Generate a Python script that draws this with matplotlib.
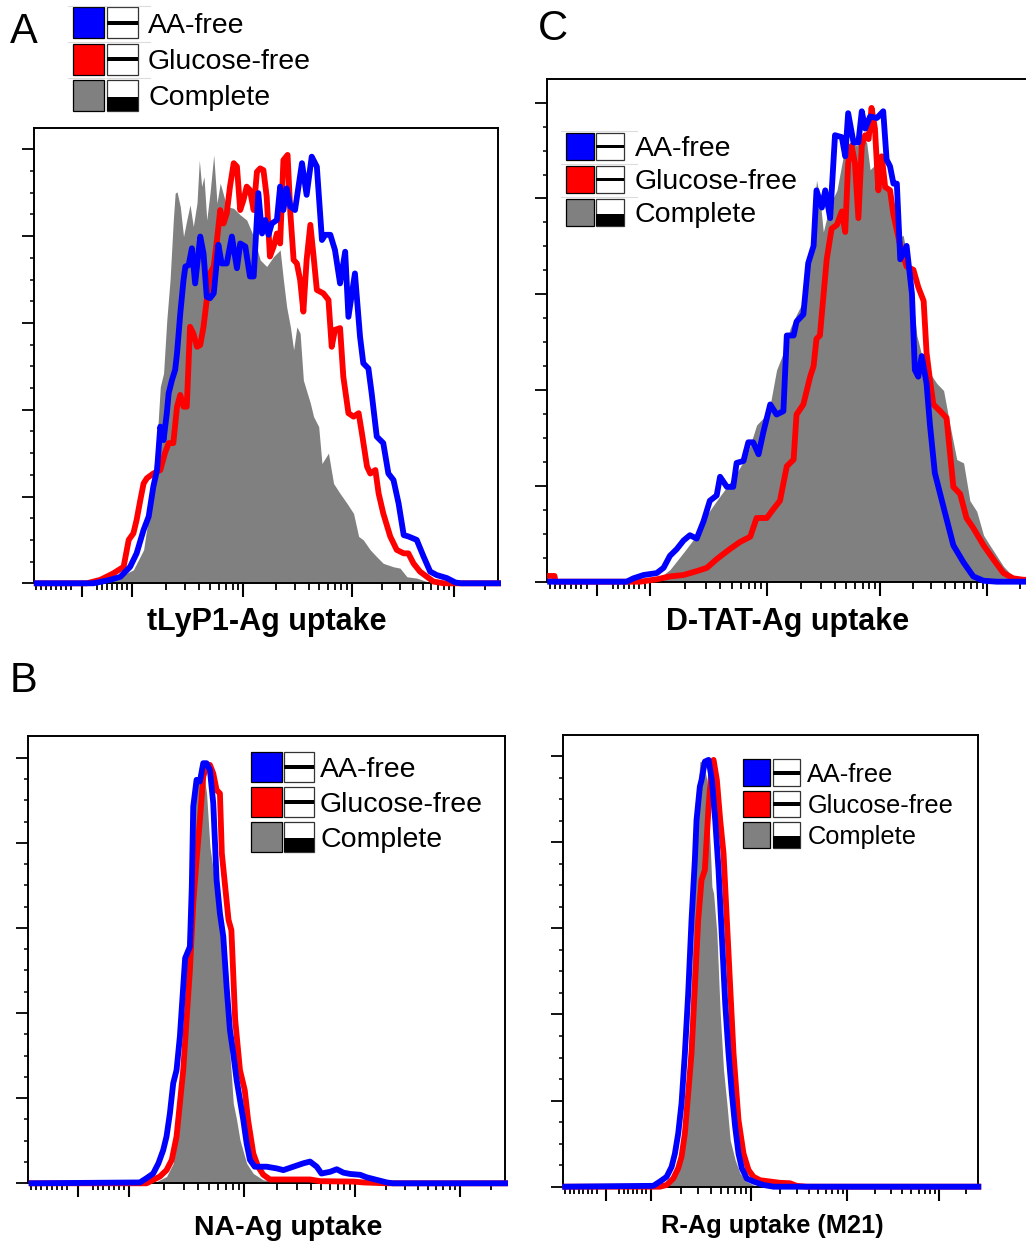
import numpy as np
import matplotlib
matplotlib.use("Agg")
import matplotlib.pyplot as plt
from matplotlib.patches import Rectangle
from matplotlib.lines import Line2D

plt.rcParams['font.family'] = ['Liberation Sans', 'DejaVu Sans']

# histogram data: x = display channel (0-1000 across the axis), y = % of max
a_comp_x = [7, 160, 165, 215, 237, 251, 258, 266, 273, 280,
            287, 294, 301, 305, 309, 316, 323, 330, 337, 344,
            352, 357, 362, 367, 373, 380, 388, 395, 402, 416,
            431, 445, 459, 474, 488, 502, 517, 531, 538, 545,
            553, 560, 567, 574, 581, 596, 603, 614, 621, 635,
            646, 660, 675, 689, 700, 710, 725, 739, 753, 775,
            789, 804, 825, 847, 860, 1000]
a_comp_y = [0, 0, 0.4, 3.1, 7.7, 17.7, 25.3, 33.0, 45.3, 48.4,
            60.7, 69.9, 83.7, 89.9, 90.2, 86.8, 79.9, 83.7, 87.2, 82.2,
            87.6, 97.5, 91.4, 93.7, 83.7, 89.9, 98.7, 87.6, 92.2, 86.8,
            86.4, 84.9, 83.7, 79.9, 74.5, 73.0, 75.3, 76.8, 69.9, 63.7,
            59.1, 53.8, 59.1, 57.6, 46.8, 41.5, 38.4, 36.1, 27.6, 30.0,
            23.0, 20.7, 18.4, 16.1, 10.8, 10.0, 7.7, 6.1, 4.6, 3.8,
            3.5, 1.5, 1.2, 0.4, 0, 0]
a_glu_x = [7, 115, 144, 172, 194, 205, 215, 222, 230, 237,
           244, 258, 273, 283, 291, 301, 309, 316, 323, 330,
           337, 344, 352, 359, 366, 373, 380, 388, 395, 402,
           409, 416, 423, 431, 438, 445, 452, 459, 466, 474,
           481, 488, 495, 502, 509, 517, 524, 531, 538, 547,
           553, 560, 567, 574, 581, 588, 596, 603, 610, 624,
           635, 642, 649, 660, 667, 678, 689, 700, 707, 718,
           725, 736, 743, 753, 768, 782, 797, 807, 818, 832,
           847, 861, 883, 1000]
a_glu_y = [0, 0, 0.8, 2.3, 3.8, 10.0, 11.5, 14.6, 19.2, 23.0,
           24.2, 25.3, 26.1, 30.0, 32.3, 32.3, 40.7, 43.4, 40.7, 40.7,
           59.1, 57.6, 54.5, 54.9, 59.1, 65.3, 71.4, 73.0, 79.1, 86.0,
           82.9, 85.2, 91.4, 96.8, 96.0, 86.0, 88.3, 91.4, 90.6, 86.0,
           94.8, 95.6, 95.2, 89.1, 75.3, 77.6, 80.6, 78.3, 97.5, 98.7,
           85.2, 74.5, 73.7, 69.9, 62.6, 74.5, 82.6, 75.3, 67.6, 66.8,
           65.3, 54.5, 58.4, 58.8, 47.6, 39.2, 38.4, 39.2, 34.6, 26.9,
           25.3, 26.1, 20.7, 16.1, 10.8, 7.7, 6.9, 6.9, 4.6, 2.7,
           1.5, 0.4, 0, 0]
a_aa_x = [7, 129, 165, 187, 208, 222, 237, 248, 258, 266,
          273, 280, 287, 291, 298, 305, 309, 316, 323, 327,
          334, 341, 348, 359, 366, 373, 380, 388, 398, 405,
          416, 427, 438, 445, 456, 466, 474, 484, 492, 499,
          506, 513, 524, 531, 538, 545, 553, 563, 578, 588,
          599, 610, 621, 628, 639, 649, 660, 671, 678, 692,
          703, 710, 721, 728, 739, 753, 764, 775, 786, 797,
          807, 825, 840, 854, 868, 890, 908, 920, 1000]
a_aa_y = [0, 0, 0.8, 1.5, 3.8, 6.9, 12.3, 15.4, 22.3, 26.1,
          36.1, 33.0, 39.2, 43.8, 46.8, 49.2, 53.0, 62.2, 69.9, 73.0,
          73.3, 77.2, 69.1, 79.9, 76.0, 66.0, 65.7, 66.8, 78.0, 73.7,
          73.7, 79.9, 72.6, 78.3, 77.6, 70.7, 70.7, 89.9, 80.6, 83.7,
          80.3, 82.9, 83.7, 91.4, 86.0, 91.0, 86.8, 86.0, 96.8, 89.5,
          98.3, 96.0, 79.1, 80.3, 80.3, 76.8, 69.1, 76.4, 61.4, 71.4,
          56.8, 50.7, 49.5, 43.8, 33.8, 32.3, 25.3, 23.8, 18.4, 11.1,
          10.8, 10.0, 6.1, 2.7, 1.9, 1.2, 0.2, 0, 0]

c_comp_x = [7, 220, 226, 253, 281, 308, 329, 349, 370, 390,
            411, 431, 445, 459, 472, 486, 500, 513, 527, 541,
            554, 561, 568, 582, 596, 609, 623, 637, 650, 657,
            664, 678, 691, 705, 719, 732, 746, 760, 774, 787,
            801, 815, 828, 842, 856, 869, 883, 897, 910, 924,
            938, 951, 965, 979, 995, 1000]
c_comp_y = [0, 0, 0.4, 2.5, 6.1, 9.7, 14.0, 16.9, 19.8, 22.7,
            26.3, 32.7, 34.2, 37.0, 44.2, 47.8, 52.9, 55.8, 58.6, 67.3,
            83.8, 80.2, 73.0, 78.8, 81.7, 88.8, 91.7, 91.0, 92.4, 91.7,
            86.0, 87.4, 82.4, 80.9, 71.6, 72.3, 64.4, 51.4, 45.7, 43.5,
            41.4, 39.9, 32.7, 25.5, 24.8, 16.9, 14.7, 9.7, 7.6, 5.4,
            3.2, 1.8, 0.7, 0.4, 0, 0]
c_glu_x = [7, 16, 18, 192, 226, 253, 281, 308, 329, 349,
           363, 376, 397, 418, 431, 452, 465, 479, 493, 507,
           513, 527, 541, 548, 554, 561, 575, 585, 596, 606,
           613, 619, 626, 633, 640, 647, 654, 661, 667, 674,
           681, 688, 695, 705, 712, 726, 739, 753, 763, 774,
           780, 787, 794, 808, 821, 828, 835, 849, 862, 876,
           897, 917, 938, 958, 979, 1000]
c_glu_y = [1.2, 1.2, 0, 0, 0.5, 1.1, 1.4, 2.2, 2.9, 4.7,
           5.8, 6.8, 8.3, 9.4, 13.3, 13.3, 15.1, 16.9, 24.1, 25.5,
           34.9, 37.0, 42.8, 45.0, 50.7, 51.4, 67.3, 73.7, 74.5, 77.3,
           73.0, 87.4, 91.0, 87.4, 75.9, 91.0, 93.2, 92.4, 98.9, 94.6,
           81.7, 88.8, 82.4, 81.7, 76.6, 70.1, 65.8, 65.1, 61.5, 58.6,
           47.8, 42.1, 37.0, 35.6, 34.2, 27.0, 19.8, 18.3, 13.3, 11.2,
           7.6, 4.7, 1.8, 0.7, 0.4, 0.4]
c_aa_x = [7, 164, 178, 199, 226, 240, 253, 267, 281, 294,
          308, 322, 335, 349, 356, 370, 383, 390, 404, 414,
          424, 435, 445, 459, 472, 486, 493, 507, 513, 527,
          537, 548, 554, 565, 572, 582, 592, 606, 613, 619,
          630, 640, 647, 654, 664, 678, 691, 698, 705, 712,
          719, 726, 739, 750, 756, 763, 770, 780, 787, 797,
          815, 835, 856, 876, 897, 924, 1000]
c_aa_y = [0, 0, 0.7, 1.4, 1.8, 2.9, 5.4, 6.8, 8.6, 9.7,
          9.0, 12.6, 16.9, 18.0, 21.9, 19.8, 19.8, 24.8, 25.2, 29.1,
          29.1, 26.6, 31.3, 37.0, 34.9, 35.6, 51.4, 51.4, 54.3, 55.8,
          66.5, 70.1, 81.7, 78.1, 81.7, 75.9, 93.2, 92.8, 88.8, 97.8,
          91.7, 91.7, 98.2, 94.6, 97.1, 96.8, 98.2, 88.1, 86.7, 83.1,
          83.1, 67.3, 70.1, 60.1, 44.2, 42.8, 47.1, 41.4, 32.7, 22.7,
          15.5, 7.6, 4.0, 1.1, 0.2, 0, 0]

b_comp_x = [7, 241, 269, 290, 304, 315, 325, 332, 339, 346,
            353, 360, 367, 374, 381, 388, 395, 402, 409, 416,
            423, 430, 437, 444, 458, 472, 493, 591, 605, 1000]
b_comp_y = [0, 0, 0.4, 1.6, 4.7, 12.5, 30.5, 54.0, 69.7, 81.5,
            93.2, 98.7, 97.1, 91.6, 79.1, 73.6, 67.4, 61.9, 54.0, 42.3,
            30.5, 18.8, 14.9, 10.2, 4.7, 2.3, 0.8, 0.2, 0, 0]
b_glu_x = [7, 248, 262, 276, 290, 301, 311, 318, 325, 332,
           339, 346, 353, 360, 367, 374, 381, 388, 395, 402,
           406, 413, 420, 426, 434, 444, 454, 461, 472, 482,
           493, 507, 591, 612, 682, 703, 752, 1000]
b_glu_y = [0, 0, 0.8, 1.6, 3.1, 5.5, 11.0, 18.8, 26.6, 38.4,
           50.1, 65.8, 76.0, 85.4, 95.6, 97.9, 98.3, 96.3, 92.4, 91.6,
           77.5, 69.7, 61.9, 59.5, 38.4, 26.6, 21.9, 14.9, 7.0, 3.9,
           2.0, 0.9, 0.9, 0.5, 0.4, 0.2, 0, 0]
b_aa_x = [7, 234, 248, 262, 273, 283, 290, 297, 304, 311,
          318, 325, 329, 339, 343, 346, 353, 360, 367, 374,
          381, 388, 395, 402, 409, 416, 423, 430, 437, 444,
          451, 458, 465, 475, 500, 521, 535, 556, 577, 591,
          605, 615, 633, 647, 661, 675, 696, 710, 731, 752,
          765, 1000]
b_aa_y = [0, 0.2, 1.2, 2.3, 4.7, 7.8, 11.0, 16.4, 23.5, 26.6,
          34.5, 46.2, 52.9, 55.6, 69.7, 88.5, 94.8, 94.4, 98.7, 98.7,
          97.1, 89.3, 71.3, 63.4, 58.0, 46.2, 36.0, 30.5, 24.3, 19.6,
          14.9, 9.4, 5.5, 3.9, 3.9, 3.5, 3.1, 3.9, 4.7, 5.1,
          3.9, 2.3, 2.7, 3.3, 2.5, 2.2, 2.0, 1.4, 0.8, 0.2,
          0, 0]

d_comp_x = [6, 225, 234, 258, 274, 282, 290, 298, 306, 314,
            318, 322, 326, 330, 338, 347, 355, 359, 363, 371,
            379, 387, 395, 403, 415, 427, 443, 459, 475, 1000]
d_comp_y = [0, 0, 0.2, 1.2, 3.1, 7.0, 13.9, 23.2, 38.7, 58.1,
            73.5, 85.1, 92.9, 98.7, 98.7, 94.4, 79.0, 69.7, 68.1, 58.8,
            40.2, 27.1, 19.4, 10.8, 6.2, 3.1, 1.2, 0.4, 0, 0]
d_glu_x = [6, 234, 250, 266, 278, 286, 294, 302, 310, 318,
           326, 334, 342, 351, 359, 363, 371, 379, 387, 395,
           403, 411, 417, 423, 435, 447, 459, 475, 499, 523,
           547, 563, 587, 1000]
d_glu_y = [0, 0, 0.4, 1.9, 4.3, 7.0, 12.4, 21.7, 31.0, 46.4,
           61.9, 71.2, 73.5, 88.2, 98.3, 99.1, 94.4, 85.1, 77.4, 61.9,
           46.4, 31.0, 23.2, 15.5, 7.7, 3.9, 2.3, 1.5, 1.2, 0.9,
           0.8, 0.2, 0, 0]
d_aa_x = [6, 218, 234, 250, 262, 270, 278, 286, 294, 302,
          310, 318, 322, 330, 334, 342, 351, 359, 367, 375,
          383, 391, 399, 407, 415, 423, 431, 443, 459, 483,
          507, 1000]
d_aa_y = [0, 0.2, 1.2, 2.3, 4.6, 7.7, 12.4, 19.4, 31.0, 44.9,
          61.9, 75.9, 85.1, 92.9, 94.4, 98.7, 99.1, 94.4, 85.1, 73.5,
          58.1, 42.6, 31.0, 21.7, 13.9, 7.7, 4.3, 1.9, 1.2, 0.4,
          0, 0]

legend_names = ["AA-free", "Glucose-free", "Complete"]
BLUE = "#0000ff"
RED = "#ff0000"
GRAY = "#808080"

# fluorescence values for the tick marks of the biexponential axis
major_vals = [0, 1e2, 1e3, 1e4, 1e5]
minor_vals = ([-v for v in range(20, 100, 10)] + list(range(30, 100, 10)) +
              [k * 10 ** e for e in (2, 3, 4) for k in range(2, 10)] + [2e5])

W, H = 1026, 1243
fig = plt.figure(figsize=(W / 100, H / 100), dpi=100)


def chan(v):
    v = np.asarray(v, float)
    lin = 103.5 + v * 1.085
    lg = np.interp(np.log10(np.maximum(v, 100)), [2, 3, 4, 5, 6],
                   [212, 452, 685, 905, 1125])
    return np.where(v <= 100, lin, lg)


def fx(x):
    return x / W


def fy(y):
    return 1 - y / H


def panel(left, bottom, width, height, comp, glu, aa):
    ax = fig.add_axes([fx(left), fy(bottom), width / W, height / H])
    ax.fill_between(comp[0], comp[1], 0, color=GRAY, lw=0, zorder=1)
    ax.plot(glu[0], glu[1], color=RED, lw=4.2, clip_on=False, zorder=3,
            solid_joinstyle="round")
    ax.plot(aa[0], aa[1], color=BLUE, lw=4.2, clip_on=False, zorder=4,
            solid_joinstyle="round")
    ax.set_xlim(0, 1000)
    ax.set_ylim(0, 105)
    ax.set_xticks(chan(major_vals))
    ax.set_xticks(chan(minor_vals), minor=True)
    ax.set_yticks(np.arange(0, 101, 20))
    ax.set_yticks(np.arange(0, 101, 5), minor=True)
    ax.tick_params(axis='x', which='major', direction='out', length=10, width=1.5)
    ax.tick_params(axis='x', which='minor', direction='out', length=5, width=1.3)
    ax.tick_params(axis='y', which='major', direction='out', length=8.4, width=1.3)
    ax.tick_params(axis='y', which='minor', direction='out', length=3, width=1.1)
    ax.tick_params(labelleft=False, labelbottom=False)
    for s in ax.spines.values():
        s.set_linewidth(1.4)
    return ax


def legend(x0, y0, size, pitch, gap, text_x, fs, seps):
    colors = [BLUE, RED, GRAY]
    for i, name in enumerate(legend_names):
        top = y0 + i * pitch
        if seps:
            fig.add_artist(Line2D([fx(x0 - 5), fx(text_x + 2)], [fy(top - 1.5)] * 2,
                                  color="#dcdcdc", lw=0.8, transform=fig.transFigure))
        fig.add_artist(Rectangle((fx(x0), fy(top + size)), size / W, size / H,
                                 facecolor=colors[i], edgecolor="black", lw=0.9,
                                 transform=fig.transFigure))
        bx = x0 + size + gap
        fig.add_artist(Rectangle((fx(bx), fy(top + size)), size / W, size / H,
                                 facecolor="white", edgecolor="#333333", lw=0.9,
                                 transform=fig.transFigure))
        if i < 2:
            th = size * 0.14
            fig.add_artist(Rectangle((fx(bx), fy(top + size / 2 + th / 2)), size / W, th / H,
                                     facecolor="black", lw=0, transform=fig.transFigure))
        else:
            fig.add_artist(Rectangle((fx(bx), fy(top + size)), size / W, size * 0.46 / H,
                                     facecolor="black", lw=0, transform=fig.transFigure))
        fig.text(fx(text_x), fy(top + size / 2 + 0.35 * fs * 100 / 72), name,
                 fontsize=fs, va="baseline", ha="left")


panel(33.5, 583.3, 464.5, 455.7, (a_comp_x, a_comp_y), (a_glu_x, a_glu_y), (a_aa_x, a_aa_y))
panel(546.7, 581.7, 487, 503, (c_comp_x, c_comp_y), (c_glu_x, c_glu_y), (c_aa_x, c_aa_y))
panel(28.3, 1183.3, 476.7, 446.9, (b_comp_x, b_comp_y), (b_glu_x, b_glu_y), (b_aa_x, b_aa_y))
panel(562.7, 1186.7, 415.6, 452.2, (d_comp_x, d_comp_y), (d_glu_x, d_glu_y), (d_aa_x, d_aa_y))

legend(73.3, 7.3, 31, 36.3, 3, 148, 20.5, True)
legend(566, 132.7, 27.5, 33, 2.5, 635, 20.5, True)
legend(251, 751.7, 30.5, 35, 2, 320, 20.5, False)
legend(743.3, 759.3, 26.7, 31.2, 3.3, 807.3, 18.3, False)

fig.text(fx(10), fy(43), "A", fontsize=30, va="baseline")
fig.text(fx(538), fy(39.5), "C", fontsize=30, va="baseline")
fig.text(fx(9.5), fy(692), "B", fontsize=30, va="baseline")

fig.text(fx(267), fy(629.7), "tLyP1-Ag uptake", fontsize=22, weight="bold", ha="center", va="baseline")
fig.text(fx(788), fy(629.7), "D-TAT-Ag uptake", fontsize=22, weight="bold", ha="center", va="baseline")
fig.text(fx(288.5), fy(1235), "NA-Ag uptake", fontsize=20.5, weight="bold", ha="center", va="baseline")
fig.text(fx(772), fy(1233.5), "R-Ag uptake (M21)", fontsize=18.3, weight="bold", ha="center", va="baseline")

plt.savefig("out.png", dpi=100)
plt.close("all")
